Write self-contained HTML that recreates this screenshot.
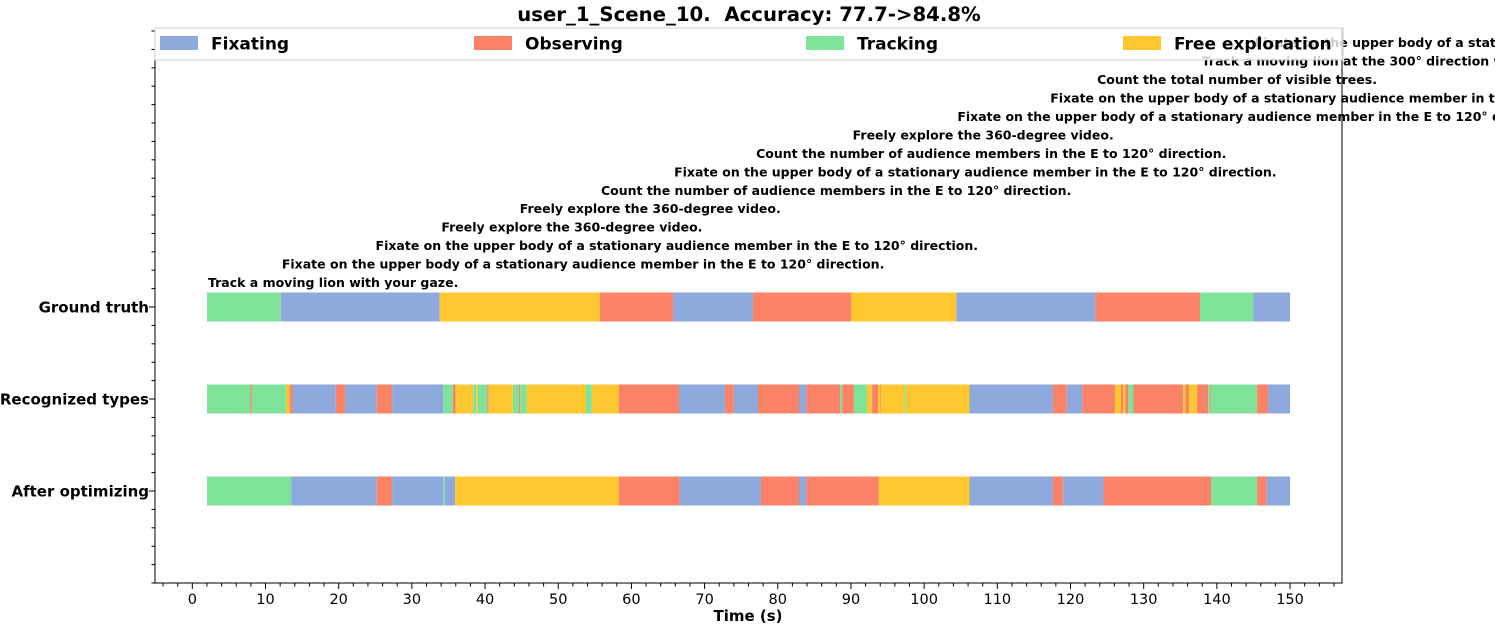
<!DOCTYPE html>
<html><head><meta charset="utf-8"><style>
body{margin:0;background:#fff;}
svg{display:block;font-family:"Liberation Sans","DejaVu Sans",sans-serif;}
</style></head><body>
<svg id="chart" width="1495" height="629" viewBox="0 0 1495 629" xmlns="http://www.w3.org/2000/svg">
<text x="749" y="21" text-anchor="middle" font-size="19.7" font-weight="bold" font-family="DejaVu Sans, sans-serif">user_1_Scene_10.&#160; Accuracy: 77.7-&gt;84.8%</text>
<g id="plot"></g>
</svg>
<script>
const categories = ["Fixating","Observing","Tracking","Free exploration"];
const colors = ["#8eaadc","#fa8267","#80e39a","#ffc72f"];
const rowLabels = ["Ground truth","Recognized types","After optimizing"];
const endTime = 150;
const gtStarts = [2,12.1,33.8,55.7,65.7,76.6,90.0,104.4,123.4,137.7,145.0];
const gtTypes  = [2,0,3,1,0,1,3,0,1,2,0];
const recStarts = [2.0,7.9,8.1,12.8,13.3,13.7,19.6,20.9,25.2,27.3,34.3,35.6,36.0,38.4,38.8,39.0,40.3,40.5,43.8,44.6,44.8,45.7,53.8,54.6,58.3,66.5,72.8,74.0,77.3,82.9,83.9,88.5,88.8,90.4,92.2,92.9,93.7,94.0,94.1,97.3,97.5,106.2,117.6,119.5,121.6,126.1,126.9,127.2,127.5,127.9,128.6,135.4,135.7,136.2,137.3,138.8,139.1,139.2,145.5,147.0];
const recTypes  = [2,1,2,3,1,0,1,0,1,0,2,1,3,2,3,2,1,3,2,1,2,3,2,3,1,0,1,0,1,0,1,2,1,2,3,1,3,1,3,2,3,0,1,0,1,3,1,3,1,2,1,3,1,3,1,2,1,2,1,0];
const optStarts = [2.0,13.5,25.2,27.3,34.3,34.5,35.9,58.3,66.6,77.7,82.9,83.9,93.8,106.2,117.6,119.0,124.5,139.2,145.5,146.8];
const optTypes  = [2,0,1,0,2,0,3,1,0,1,0,1,3,0,1,0,1,2,1,0];
const taskStarts = [2,12.1,24.9,33.9,44.6,55.7,65.7,76.9,90.1,104.4,117.1,123.5,137.8,145.0];
const taskLabels = ["Track a moving lion with your gaze.",
"Fixate on the upper body of a stationary audience member in the E to 120° direction.",
"Fixate on the upper body of a stationary audience member in the E to 120° direction.",
"Freely explore the 360-degree video.",
"Freely explore the 360-degree video.",
"Count the number of audience members in the E to 120° direction.",
"Fixate on the upper body of a stationary audience member in the E to 120° direction.",
"Count the number of audience members in the E to 120° direction.",
"Freely explore the 360-degree video.",
"Fixate on the upper body of a stationary audience member in the E to 120° direction.",
"Fixate on the upper body of a stationary audience member in the E to 120° direction.",
"Count the total number of visible trees.",
"Track a moving lion at the 300° direction with your gaze.",
"Fixate on the upper body of a stationary audience member in the E to 120° direction."];
const xTicks = [0,10,20,30,40,50,60,70,80,90,100,110,120,130,140,150];

const L=155,R=1342,T=28,B=583;
const xMin=-5.1,xMax=157.1;
const X=t=>L+(t-xMin)/(xMax-xMin)*(R-L);
const rowY=[307,399,491];
const barH=29;
const NS="http://www.w3.org/2000/svg";
const g=document.getElementById('plot');
function mk(tag,attrs,parent){const e=document.createElementNS(NS,tag);for(const k in attrs)e.setAttribute(k,attrs[k]);(parent||g).appendChild(e);return e;}

function drawRow(starts,types,ri,name){
  for(let i=0;i<starts.length;i++){
    const s=starts[i],e=i+1<starts.length?starts[i+1]:endTime;
    const r=mk('rect',{x:X(s),y:rowY[ri]-barH/2,width:X(e)-X(s),height:barH,fill:colors[types[i]]});
    
    
  }
}
drawRow(gtStarts,gtTypes,0,'ground-truth');
drawRow(recStarts,recTypes,1,'recognized');
drawRow(optStarts,optTypes,2,'optimized');

for(let i=0;i<taskLabels.length;i++){
  const t=mk('text',{x:X(taskStarts[i])+1,y:287-i*18.45,'font-size':12.5,'font-weight':'bold','font-family':'DejaVu Sans, sans-serif'});
  t.textContent=taskLabels[i];
  
  
}

const ax=mk('path',{d:`M${L},${T}V${B}H${R}V${T}`,fill:'none',stroke:'#000','stroke-width':1});


for(let v=-4;v<=156;v+=2){
  const major=v%10===0&&v>=0;
  mk('line',{x1:X(v),x2:X(v),y1:B,y2:B+(major?6:3.5),stroke:'#000'});
}
xTicks.forEach(v=>{
  const t=mk('text',{x:X(v),y:B+21,'text-anchor':'middle','font-size':14.5,'font-family':'DejaVu Sans, sans-serif'});
  t.textContent=v;
  
  
});
for(let y=B;y>T;y-=18.4){mk('line',{x1:L,x2:L-3.5,y1:y,y2:y,stroke:'#000'});}
rowLabels.forEach((lab,i)=>{
  mk('line',{x1:L,x2:L-6,y1:rowY[i],y2:rowY[i],stroke:'#000'});
  const t=mk('text',{x:L-6,y:rowY[i]+5.5,'text-anchor':'end','font-size':15,'font-weight':'bold','font-family':'DejaVu Sans, sans-serif'});
  t.textContent=lab;
  
  
});
const xl=mk('text',{x:748,y:621,'text-anchor':'middle','font-size':15,'font-weight':'bold','font-family':'DejaVu Sans, sans-serif'});
xl.textContent='Time (s)';



const lg=mk('g',{});


mk('rect',{x:L,y:T,width:R-L+1,height:32,fill:'#fff','fill-opacity':0.8,stroke:'#ccc'},lg);
const legX=[160,474,806,1123];
categories.forEach((c,i)=>{
  const e=mk('g',{},lg);
  
  
  mk('rect',{x:legX[i],y:36,width:38,height:14,fill:colors[i]},e);
  const t=mk('text',{x:legX[i]+51,y:49.5,'font-size':17,'font-weight':'bold','font-family':'DejaVu Sans, sans-serif'},e);
  t.textContent=c;
});
</script>
</body></html>
